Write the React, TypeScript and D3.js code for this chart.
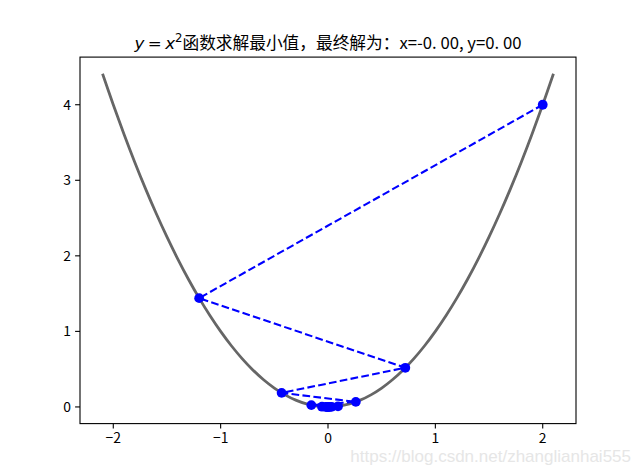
import React from "react";
import * as d3 from "d3";

const curveX = [-2.1, -2.0, -1.9, -1.8, -1.7, -1.6, -1.5, -1.4, -1.3, -1.2, -1.1, -1.0, -0.9, -0.8, -0.7, -0.6, -0.5, -0.4, -0.3, -0.2, -0.1, 0.0, 0.1, 0.2, 0.3, 0.4, 0.5, 0.6, 0.7, 0.8, 0.9, 1.0, 1.1, 1.2, 1.3, 1.4, 1.5, 1.6, 1.7, 1.8, 1.9, 2.0, 2.1];
const curveY = [4.41, 4.0, 3.61, 3.24, 2.89, 2.56, 2.25, 1.96, 1.69, 1.44, 1.21, 1.0, 0.81, 0.64, 0.49, 0.36, 0.25, 0.16, 0.09, 0.04, 0.01, 0.0, 0.01, 0.04, 0.09, 0.16, 0.25, 0.36, 0.49, 0.64, 0.81, 1.0, 1.21, 1.44, 1.69, 1.96, 2.25, 2.56, 2.89, 3.24, 3.61, 4.0, 4.41];

const stepX = [2, -1.2, 0.72, -0.432, 0.2592, -0.15552, 0.093312, -0.0559872, 0.0335923, -0.0201554, 0.0120932, -0.0072559, 0.0043536, -0.0026121];
const stepY = [4, 1.44, 0.5184, 0.186624, 0.0671846, 0.0241865, 0.0087071, 0.0031346, 0.0011285, 0.0004062, 0.0001462, 0.0000526, 0.000019, 0.0000068];

const xTicks = [-2, -1, 0, 1, 2];
const yTicks = [0, 1, 2, 3, 4];

const W = 640, H = 476;
const L = 80, R = 576, T = 57.1, B = 423.6;

export default function App() {
  const x = d3.scaleLinear().domain([-2.31, 2.31]).range([L, R]);
  const y = d3.scaleLinear().domain([-0.2205, 4.6305]).range([B, T]);
  const curvePts: [number, number][] = curveX.map((v, i) => [v, curveY[i]]);
  const curveLine = d3.line<[number, number]>().x(d => x(d[0])).y(d => y(d[1])).curve(d3.curveCatmullRom);
  const stepPts: [number, number][] = stepX.map((v, i) => [v, stepY[i]]);
  const stepLine = d3.line<[number, number]>().x(d => x(d[0])).y(d => y(d[1]));
  const tickFont = "'Noto Sans CJK SC', 'DejaVu Sans', sans-serif";
  const fmt = (v: number) => (v < 0 ? "\u2212" + Math.abs(v) : String(v));
  return (
    <svg width={W} height={H} style={{ position: "absolute", left: 0, top: 0, background: "#fff" }}>
      <rect x={0} y={0} width={W} height={H} fill="#fff" />
      <defs>
        <clipPath id="ax">
          <rect x={L} y={T} width={R - L} height={B - T} />
        </clipPath>
      </defs>
      <g clipPath="url(#ax)">
        <path d={curveLine(curvePts) || ""} fill="none" stroke="#666666" strokeWidth={2.78} />
        <path d={stepLine(stepPts) || ""} fill="none" stroke="#0000ff" strokeWidth={2.08} strokeDasharray="7.7,3.3" />
        {stepPts.map((d, i) => (
          <circle key={i} cx={x(d[0])} cy={y(d[1])} r={4.9} fill="#0000ff" />
        ))}
      </g>
      <rect x={L} y={T} width={R - L} height={B - T} fill="none" stroke="#000" strokeWidth={1.1} />
      {xTicks.map(t => (
        <g key={"x" + t}>
          <line x1={x(t)} x2={x(t)} y1={B} y2={B + 4.9} stroke="#000" strokeWidth={1.1} />
          <text x={x(t)} y={B + 19} textAnchor="middle" fontSize={13.9} fontFamily={tickFont}>{fmt(t)}</text>
        </g>
      ))}
      {yTicks.map(t => (
        <g key={"y" + t}>
          <line x1={L - 4.9} x2={L} y1={y(t)} y2={y(t)} stroke="#000" strokeWidth={1.1} />
          <text x={L - 9} y={y(t) + 5} textAnchor="end" fontSize={13.9} fontFamily={tickFont}>{fmt(t)}</text>
        </g>
      ))}
      <text x={(L + R) / 2} y={49} textAnchor="middle" fontSize={16.7} fontFamily={tickFont}>
        <tspan fontFamily="'DejaVu Sans'" fontStyle="italic">y</tspan>
        <tspan fontFamily="'DejaVu Sans'">{"\u2009=\u2009"}</tspan>
        <tspan fontFamily="'DejaVu Sans'" fontStyle="italic">x</tspan>
        <tspan fontFamily="'DejaVu Sans'" fontSize={11.7} dy={-7}>2</tspan>
        <tspan dy={7}>函数求解最小值，最终解为：x=-0. 00, y=0. 00</tspan>
      </text>
      <text x={W - 9} y={462} textAnchor="end" fontSize={17} fontFamily="'Liberation Sans', Arial, sans-serif" fill="#e6e6e6">https://blog.csdn.net/zhanglianhai555</text>
    </svg>
  );
}
